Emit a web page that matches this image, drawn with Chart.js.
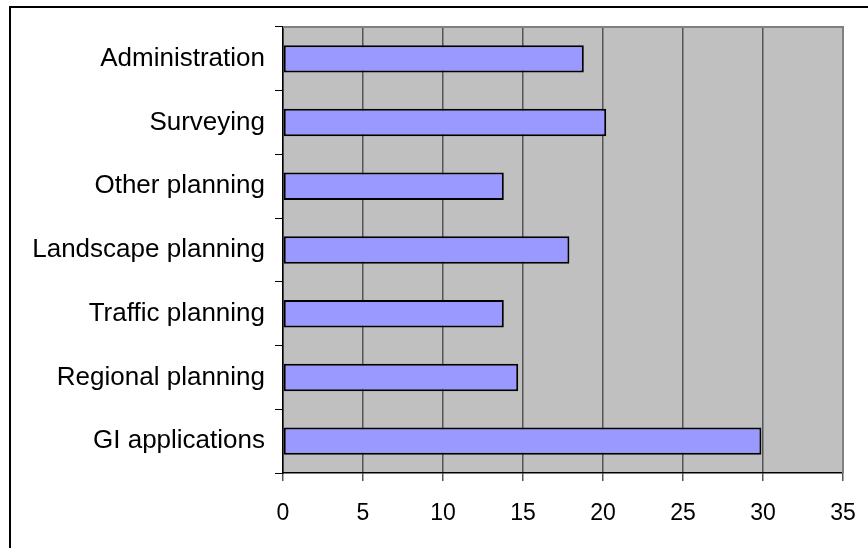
<!DOCTYPE html>
<html lang="en">
<head>
    <meta charset="UTF-8">
    <title>GI usage by field</title>
    <script src="https://cdn.jsdelivr.net/npm/chart.js"></script>
    <style>
        body { margin: 0; background: #fff; }
        canvas { display: block; }
    </style>
</head>
<body>
    <canvas id="barChart" width="868" height="548"></canvas>
    <script>
        // categories, top to bottom
        const categories = [
            'Administration', 'Surveying', 'Other planning', 'Landscape planning',
            'Traffic planning', 'Regional planning', 'GI applications'
        ];
        const values = [18.8, 20.2, 13.8, 17.9, 13.8, 14.7, 29.9];
        const xMin = 0;
        const xMax = 35;
        const xStep = 5;

        // grey plot area + frame around the whole chart
        const backdrop = {
            id: 'backdrop',
            beforeDraw(chart) {
                const { ctx, chartArea: a } = chart;
                ctx.save();
                ctx.fillStyle = '#c0c0c0';
                ctx.fillRect(a.left, a.top, a.right - a.left, a.bottom - a.top);
                ctx.restore();
            },
            afterDraw(chart) {
                const { ctx, chartArea: a } = chart;
                ctx.save();
                // top and right edge of the plot
                ctx.strokeStyle = '#808080';
                ctx.lineWidth = 2;
                ctx.beginPath();
                ctx.moveTo(a.left, a.top);
                ctx.lineTo(a.right, a.top);
                ctx.lineTo(a.right, a.bottom);
                ctx.stroke();
                // outer chart frame
                ctx.strokeStyle = '#000';
                ctx.lineWidth = 2;
                ctx.beginPath();
                ctx.moveTo(10, chart.height + 2);
                ctx.lineTo(10, 7);
                ctx.lineTo(chart.width + 2, 7);
                ctx.stroke();
                ctx.restore();
            }
        };

        const ctx = document.getElementById('barChart').getContext('2d');
        new Chart(ctx, {
            type: 'bar',
            data: {
                labels: categories,
                datasets: [{
                    data: values,
                    backgroundColor: '#9999ff',
                    borderColor: '#000',
                    borderWidth: 2,
                    borderSkipped: false,
                    categoryPercentage: 1,
                    barPercentage: 0.43
                }]
            },
            options: {
                indexAxis: 'y',
                responsive: false,
                animation: false,
                layout: { padding: { left: 0, right: 25, top: 27, bottom: 0 } },
                plugins: {
                    legend: { display: false },
                    tooltip: { enabled: false }
                },
                scales: {
                    x: {
                        min: xMin,
                        max: xMax,
                        afterFit(scale) {
                            scale.height = 75;
                            scale.paddingLeft = 0;
                            scale.paddingRight = 0;
                        },
                        ticks: {
                            stepSize: xStep,
                            color: '#000',
                            padding: 19,
                            maxRotation: 0,
                            font: { family: 'Liberation Sans', size: 23 }
                        },
                        grid: {
                            color: '#555',
                            lineWidth: 1.5,
                            tickColor: '#555',
                            tickLength: 8
                        },
                        border: { color: '#000', width: 1.5 }
                    },
                    y: {
                        afterFit(scale) {
                            scale.width = 283;
                            scale.paddingTop = 0;
                            scale.paddingBottom = 0;
                        },
                        ticks: {
                            color: '#000',
                            padding: 10,
                            font: { family: 'Liberation Sans', size: 26 }
                        },
                        grid: {
                            offset: true,
                            drawOnChartArea: false,
                            tickColor: '#000',
                            tickLength: 8
                        },
                        border: { color: '#000', width: 1.5 }
                    }
                }
            },
            plugins: [backdrop]
        });
    </script>
</body>
</html>
